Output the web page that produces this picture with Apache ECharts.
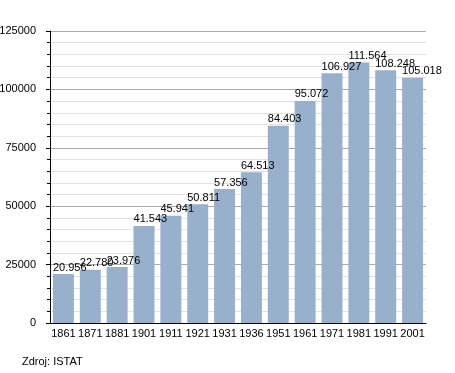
<!DOCTYPE html>
<html><head><meta charset="utf-8">
<script src="https://cdn.jsdelivr.net/npm/echarts@6/dist/echarts.min.js"></script>
<style>html,body{margin:0;padding:0;background:#fff}#c{width:455px;height:373px}</style>
</head><body><div id="c"></div>
<script>
const years = ['1861','1871','1881','1901','1911','1921','1931','1936','1951','1961','1971','1981','1991','2001'];
const population = [20956,22780,23976,41543,45941,50811,57356,64513,84403,95072,106927,111564,108248,105018];
const yTicks = {min:0, max:125000, interval:25000};
const sourceText = 'Zdroj: ISTAT';

function fmt(n){return String(n).replace(/\B(?=(\d{3})+(?!\d))/g,'.');}
const font = '"Liberation Sans", Arial, sans-serif';
const chart = echarts.init(document.getElementById('c'), null, {renderer:'canvas'});
chart.setOption({
  animation:false,
  textStyle:{fontFamily:font},
  grid:{left:50,right:29,top:31,bottom:50,containLabel:false,outerBoundsMode:'none'},
  graphic:[{type:'text',left:22,top:356,style:{text:sourceText,fill:'#000',font:'11px '+font}}],
  xAxis:{type:'category',data:years,
    axisLine:{lineStyle:{color:'#000',width:1}},
    axisTick:{show:false},
    axisLabel:{color:'#000',fontSize:11,margin:5,interval:0,fontFamily:font}},
  yAxis:{type:'value',min:yTicks.min,max:yTicks.max,interval:yTicks.interval,
    axisLine:{show:true,lineStyle:{color:'#000',width:1}},
    axisTick:{show:true,length:4,lineStyle:{color:'#000'}},
    minorTick:{show:true,splitNumber:5,length:3,lineStyle:{color:'#000'}},
    splitLine:{show:true,lineStyle:{color:'#aaaaaa',width:1}},
    minorSplitLine:{show:true,lineStyle:{color:'#e2e2e2',width:1}},
    axisLabel:{color:'#000',fontSize:11,margin:14,fontFamily:font,formatter:v=>String(v)}},
  series:[{type:'bar',data:population,barCategoryGap:'22%',
    itemStyle:{color:'#98b0cb'},
    label:{show:true,position:[0,-1],align:'left',verticalAlign:'bottom',
      color:'#000',fontSize:11,fontFamily:font,
      formatter:p=>fmt(p.value)}}]
});
</script></body></html>
